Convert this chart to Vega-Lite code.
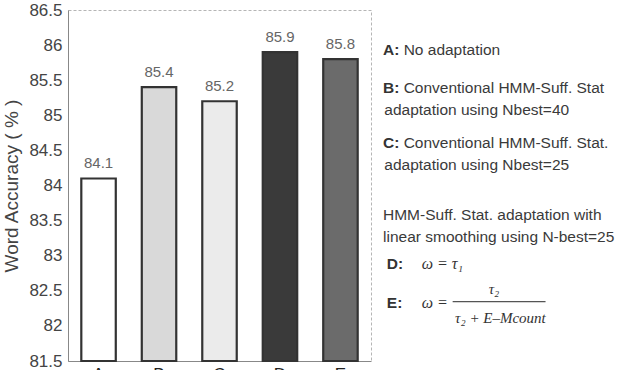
{
  "$schema": "https://vega.github.io/schema/vega-lite/v6.json",
  "padding": {"left": 2, "top": 0, "right": 0, "bottom": 0},
  "background": "white",
  "config": {"font": "Liberation Sans", "concat": {"spacing": 11}, "axis": {"labelOverlap": false, "labelSeparation": 0}},
  "datasets": {
    "bars": [
      {"cond": "A", "acc": 84.1},
      {"cond": "B", "acc": 85.4},
      {"cond": "C", "acc": 85.2},
      {"cond": "D", "acc": 85.9},
      {"cond": "E", "acc": 85.8}
    ],
    "notes": [
      {"kind": "key", "line": 0, "col": 0, "label": "A:"},
      {"kind": "text", "line": 0, "col": 8, "label": "No adaptation"},
      {"kind": "key", "line": 3.5, "col": 0, "label": "B:"},
      {"kind": "text", "line": 3.5, "col": 8, "label": "Conventional HMM-Suff. Stat"},
      {"kind": "text", "line": 5.5, "col": 0.5, "label": "adaptation using Nbest=40"},
      {"kind": "key", "line": 8.5, "col": 0, "label": "C:"},
      {"kind": "text", "line": 8.5, "col": 8, "label": "Conventional HMM-Suff. Stat."},
      {"kind": "text", "line": 10.5, "col": 0.5, "label": "adaptation using Nbest=25"},
      {"kind": "text", "line": 15, "col": 0, "label": "HMM-Suff. Stat. adaptation with"},
      {"kind": "text", "line": 17, "col": 0, "label": "linear smoothing using N-best=25"},
      {"kind": "key", "line": 19.5, "col": 1.5, "label": "D:"},
      {"kind": "math", "line": 19.5, "col": 15, "label": "ω = τ₁"},
      {"kind": "key", "line": 23, "col": 1.5, "label": "E:"},
      {"kind": "math", "line": 23, "col": 15, "label": "ω ="},
      {"kind": "frac", "line": 21.8, "col": 43, "label": "τ₂"},
      {"kind": "frac", "line": 24.4, "col": 45.5, "label": "τ₂ + E–Mcount"},
      {"kind": "rule", "line": 22.9, "col": 27, "col2": 63}
    ]
  },
  "hconcat": [
    {
      "width": 303,
      "height": 351,
      "data": {"name": "bars"},
      "view": {"stroke": "#b5b5b5", "strokeDash": [3, 2]},
      "encoding": {
        "x": {
          "field": "cond", "type": "nominal",
          "scale": {"paddingInner": 0.43, "paddingOuter": 0.22},
          "axis": {"title": null, "labelAngle": 0, "labelFontSize": 17, "labelColor": "#222", "ticks": false, "domainColor": "#888", "labelPadding": 5}
        },
        "y": {
          "field": "acc", "type": "quantitative",
          "scale": {"domain": [81.5, 86.5], "zero": false, "nice": false},
          "axis": {
            "title": "Word Accuracy ( % )", "titleFontSize": 19, "titleFontWeight": "normal", "titleColor": "#444", "titlePadding": 7,
            "values": [81.5, 82, 82.5, 83, 83.5, 84, 84.5, 85, 85.5, 86, 86.5],
            "labelExpr": "datum.value % 1 === 0 ? format(datum.value, 'd') : format(datum.value, '.1f')",
            "labelFontSize": 17, "labelColor": "#444", "ticks": false, "labelPadding": 6,
            "labelOverlap": false,
            "domainColor": "#888", "grid": false
          }
        }
      },
      "layer": [
        {
          "mark": {"type": "bar", "stroke": "#333333", "strokeWidth": 2.2},
          "encoding": {
            "y2": {"datum": 81.5},
            "fill": {
              "field": "cond", "type": "nominal",
              "scale": {"domain": ["A", "B", "C", "D", "E"], "range": ["#ffffff", "#d9d9d9", "#ebebeb", "#3a3a3a", "#6b6b6b"]},
              "legend": null
            }
          }
        },
        {
          "mark": {"type": "text", "dy": -15, "fontSize": 15, "color": "#666"},
          "encoding": {
            "text": {"field": "acc", "type": "quantitative", "format": ".1f"}
          }
        }
      ]
    },
    {
      "width": 258,
      "height": 351,
      "data": {"name": "notes"},
      "view": {"stroke": null},
      "encoding": {
        "x": {"field": "col", "type": "quantitative", "scale": {"domain": [0, 100]}, "axis": null},
        "y": {"field": "line", "type": "quantitative", "scale": {"domain": [-3.6, 28.3], "reverse": true}, "axis": null}
      },
      "layer": [
        {
          "transform": [{"filter": "datum.kind === 'key'"}],
          "mark": {"type": "text", "align": "left", "baseline": "middle", "fontSize": 15.5, "fontWeight": "bold", "color": "#333"},
          "encoding": {"text": {"field": "label"}}
        },
        {
          "transform": [{"filter": "datum.kind === 'text'"}],
          "mark": {"type": "text", "align": "left", "baseline": "middle", "fontSize": 15.5, "color": "#3a3a3a"},
          "encoding": {"text": {"field": "label"}}
        },
        {
          "transform": [{"filter": "datum.kind === 'math'"}],
          "mark": {"type": "text", "align": "left", "baseline": "middle", "fontSize": 16, "font": "Liberation Serif", "fontStyle": "italic", "color": "#333"},
          "encoding": {"text": {"field": "label"}}
        },
        {
          "transform": [{"filter": "datum.kind === 'frac'"}],
          "mark": {"type": "text", "align": "center", "baseline": "middle", "fontSize": 15, "font": "Liberation Serif", "fontStyle": "italic", "color": "#333"},
          "encoding": {"text": {"field": "label"}}
        },
        {
          "transform": [{"filter": "datum.kind === 'rule'"}],
          "mark": {"type": "rule", "color": "#555", "strokeWidth": 1.2},
          "encoding": {"x2": {"field": "col2"}}
        }
      ]
    }
  ]
}
